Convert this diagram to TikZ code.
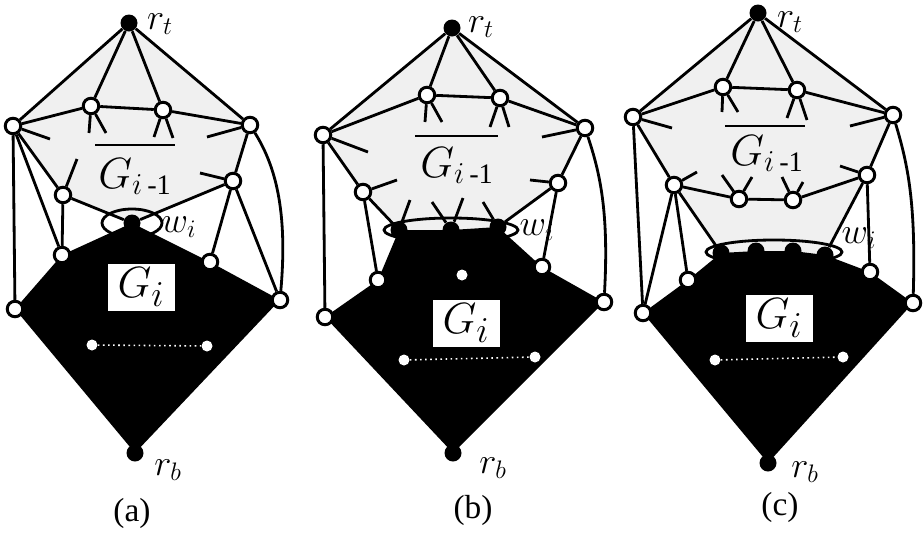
\documentclass[tikz,border=0pt]{standalone}
\usepackage{amsmath}
\usepackage{fontspec}
\setmainfont{Liberation Serif}
\usetikzlibrary{backgrounds}
\tikzset{
  vtx/.style={circle,draw,fill=white,line width=1.7pt,inner sep=0pt,minimum size=3.1mm},
  blk/.style={circle,fill=black,inner sep=0pt,minimum size=3.4mm},
  hole/.style={circle,fill=white,inner sep=0pt,minimum size=2.2mm},
  ln/.style={line width=1.6pt},
  whiteln/.style={white,dotted,line width=0.9pt},
  lightfill/.style={fill=black!6},
  darkfill/.style={fill=black},
  lab/.style={inner sep=0pt,font=\fontsize{20}{22}\selectfont},
  glab/.style={inner sep=0pt,font=\fontsize{23}{26}\selectfont},
  gbox/.style={fill=white,inner sep=0pt,minimum width=13.4mm,minimum height=9.4mm,font=\fontsize{28}{30}\selectfont},
  plabel/.style={inner sep=0pt,font=\fontsize{19}{22}\selectfont}
}
\begin{document}
\begin{tikzpicture}[x=0.2mm,y=-0.2mm]
    \useasboundingbox (0,0) rectangle (923,533);

    \node [blk] (a-rt) at (129,23) {};
    \foreach \n/\x/\y in {u1/91/106,u2/163/110,L1/13/126,R1/250/125,M1/63/195,M2/233/181,p/62/255,q/210/262,L2/15/309,R2/280/300}
        \node [vtx] (a-\n) at (\x,\y) {};
    \node [blk] (a-w) at (132,223) {};
    \node [blk] (a-rb) at (135,453) {};
    \node [hole] (a-d1) at (92,345) {};
    \node [hole] (a-d2) at (207,346) {};
    \begin{scope}[on background layer]
        \fill [lightfill] (a-rt.center) -- (a-L1.center) -- (a-M1.center) -- (a-w.center) -- (a-M2.center) -- (a-R1.center) -- cycle;
        \fill [darkfill] (a-w.center) -- (a-p.center) -- (a-L2.center) -- (a-rb.center) -- (a-R2.center) -- (a-q.center) -- cycle;
    \end{scope}
    \foreach \s/\t in {rt/L1,rt/u1,rt/u2,rt/R1,L1/u1,u1/u2,u2/R1,L1/M1,M1/w,w/M2,M2/R1,L1/L2,L1/p,M1/p,M2/q,M2/R2}
        \draw [ln] (a-\s) -- (a-\t);
    \draw [ln] (a-R1) .. controls +(25,40) and +(8,-90) .. (a-R2);
    \foreach \n/\dx/\dy in {L1/37/13,u1/-2/27,u1/15/27,u2/-9/27,u2/10/28,R1/-43/12,M1/14/-36,M2/-33/-8}
        \draw [ln] (a-\n) -- ++(\dx,\dy);
    \draw [ln] (a-w) ellipse [x radius=30,y radius=14];
    \draw [whiteln] (a-d1) -- (a-d2);
    \node [lab] (a-lt) at (160,24) {$r_t$};
    \node [lab] (a-lb) at (168,470) {$r_b$};
    \node [lab] (a-lw) at (179,227) {$w_i$};
    \node [glab,anchor=base] (a-gl) at (135,188) {$G_{i\,\text{-1}}$};
    \draw [ln] ([shift={(-40,-43)}]a-gl.base) -- ++(80,0);
    \node [gbox] (a-gi) at (141,287) {$G_i$};
    \node [plabel] (a-cap) at (132,513) {(a)};

    \node [blk] (b-rt) at (452,28) {};
    \foreach \n/\x/\y in {u1/427/95,u2/500/98,L1/323/135,R1/585/128,M1/363/192,M2/558/183,p/378/280,q/542/267,L2/325/317,R2/604/302}
        \node [vtx] (b-\n) at (\x,\y) {};
    \foreach \n/\x/\y in {w1/399/230,w2/451/230,w3/498/227,rb/453/453}
        \node [blk] (b-\n) at (\x,\y) {};
    \foreach \n/\x/\y in {d1/462/275,d2/404/360,d3/535/357}
        \node [hole] (b-\n) at (\x,\y) {};
    \begin{scope}[on background layer]
        \fill [lightfill] (b-rt.center) -- (b-L1.center) -- (b-M1.center) -- (b-w1.center) -- (b-w2.center) -- (b-w3.center) -- (b-M2.center) -- (b-R1.center) -- cycle;
        \fill [darkfill] (b-w1.center) -- (b-p.center) -- (b-L2.center) -- (b-rb.center) -- (b-R2.center) -- (b-q.center) -- (b-w3.center) -- (b-w2.center) -- cycle;
    \end{scope}
    \foreach \s/\t in {rt/L1,rt/u1,rt/u2,rt/R1,L1/u1,u1/u2,u2/R1,L1/M1,M1/w1,w3/M2,M2/R1,L1/L2,M1/p,M2/q}
        \draw [ln] (b-\s) -- (b-\t);
    \draw [ln] (b-R1) .. controls +(15,45) and +(5,-90) .. (b-R2);
    \foreach \n/\dx/\dy in {L1/45/17,u1/-2/27,u1/15/27,u2/-10/29,u2/9/29,R1/-43/9,M1/34/-12,M2/-28/-3,w1/11/-30,w2/-19/-28,w2/12/-32,w3/-15/-25}
        \draw [ln] (b-\n) -- ++(\dx,\dy);
    \draw [ln] (b-w2) ellipse [x radius=67,y radius=12];
    \draw [whiteln] (b-d2) -- (b-d3);
    \node [lab] (b-lt) at (481,27) {$r_t$};
    \node [lab] (b-lb) at (493,468) {$r_b$};
    \node [lab] (b-lw) at (537,230) {$w_i$};
    \node [glab,anchor=base] (b-gl) at (457,177) {$G_{i\,\text{-1}}$};
    \draw [ln] ([shift={(-42,-41)}]b-gl.base) -- ++(83,0);
    \node [gbox] (b-gi) at (466,323) {$G_i$};
    \node [plabel] (b-cap) at (473,510) {(b)};

    \node [blk] (c-rt) at (758,13) {};
    \foreach \n/\x/\y in {u1/723/87,u2/797/90,L1/633/117,R1/893/115,M1/674/185,M2/867/175,v1/739/199,v2/793/200,p/688/280,q/870/272,L2/643/313,R2/913/303}
        \node [vtx] (c-\n) at (\x,\y) {};
    \foreach \n/\x/\y in {w1/721/253,w2/756/251,w3/793/251,w4/825/255,rb/768/463}
        \node [blk] (c-\n) at (\x,\y) {};
    \foreach \n/\x/\y in {d1/715/360,d2/843/357}
        \node [hole] (c-\n) at (\x,\y) {};
    \begin{scope}[on background layer]
        \fill [lightfill] (c-rt.center) -- (c-L1.center) -- (c-M1.center) -- (c-w1.center) -- (c-w2.center) -- (c-w3.center) -- (c-w4.center) -- (c-M2.center) -- (c-R1.center) -- cycle;
        \fill [darkfill] (c-w1.center) -- (c-p.center) -- (c-L2.center) -- (c-rb.center) -- (c-R2.center) -- (c-q.center) -- (c-w4.center) -- (c-w3.center) -- (c-w2.center) -- cycle;
    \end{scope}
    \foreach \s/\t in {rt/L1,rt/u1,rt/u2,rt/R1,L1/u1,u1/u2,u2/R1,L1/M1,M1/v1,v1/v2,v2/M2,M2/R1,L1/L2,M1/L2,M1/p,M1/w1,M2/w4,M2/q}
        \draw [ln] (c-\s) -- (c-\t);
    \draw [ln] (c-R1) .. controls +(15,50) and +(3,-100) .. (c-R2);
    \foreach \n/\dx/\dy in {L1/39/11,u1/-1/25,u1/15/25,u2/-10/28,u2/10/30,R1/-43/11,M1/23/-13,v1/-17/-24,v1/13/-22,v2/-11/-23,v2/10/-18,M2/-27/-9}
        \draw [ln] (c-\n) -- ++(\dx,\dy);
    \draw [ln] (774,252) ellipse [x radius=68,y radius=12];
    \draw [whiteln] (c-d1) -- (c-d2);
    \node [lab] (c-lt) at (790,22) {$r_t$};
    \node [lab] (c-lb) at (805,472) {$r_b$};
    \node [lab] (c-lw) at (859,238) {$w_i$};
    \node [glab,anchor=base] (c-gl) at (767,165) {$G_{i\,\text{-1}}$};
    \draw [ln] ([shift={(-42,-39)}]c-gl.base) -- ++(80,0);
    \node [gbox] (c-gi) at (779,318) {$G_i$};
    \node [plabel] (c-cap) at (780,507) {(c)};
\end{tikzpicture}
\end{document}
